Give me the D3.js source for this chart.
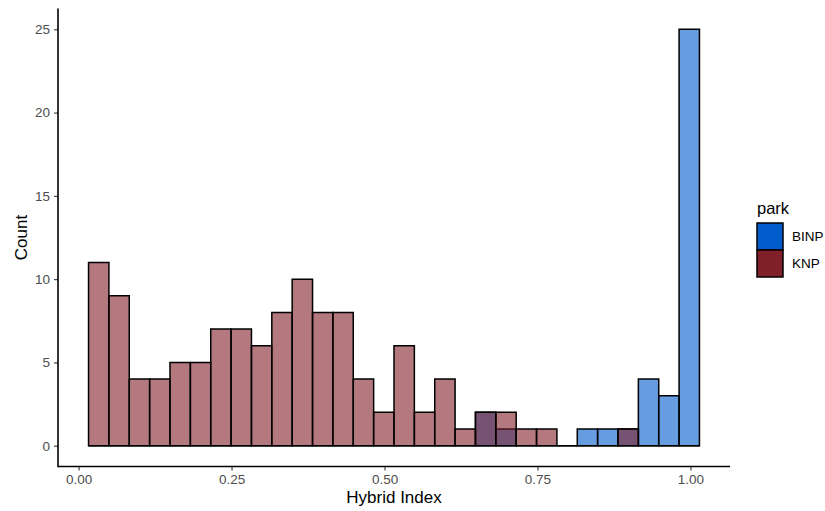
<!DOCTYPE html>
<html>
<head>
<meta charset="utf-8">
<script src="https://cdn.jsdelivr.net/npm/d3@7"></script>
<style>
  html, body { margin: 0; padding: 0; background: #fff; }
  svg { display: block; font-family: "Liberation Sans", Arial, Helvetica, sans-serif; }
</style>
</head>
<body>
<svg id="chart" width="825" height="511"></svg>
<script>
// Histogram of hybrid index by park (30 bins)
const binStart = 0.0163;
const binWidth = 0.03328;
const parks = ["BINP", "KNP"];
const binpCounts = [0,0,0,0,0,0,0,0,0,0,0,0,0,0,0,0,0,0,0,2,1,0,0,0,1,1,1,4,3,25];
const knpCounts  = [11,9,4,4,5,5,7,7,6,8,10,8,8,4,2,6,2,4,1,2,2,1,1,0,0,0,1,0,0,0];
const xTicks = [0, 0.25, 0.5, 0.75, 1.0];
const xTickLabels = ["0.00", "0.25", "0.50", "0.75", "1.00"];
const yTicks = [0, 5, 10, 15, 20, 25];
const parkColors = ["#005ccb", "#802029"];

const svg = d3.select("#chart");
const panel = { left: 58, right: 730, top: 8.5, bottom: 466.5 };

const nBins = binpCounts.length;
const dataMin = binStart, dataMax = binStart + nBins * binWidth;
const padX = (dataMax - dataMin) * 0.05;
const x = d3.scaleLinear().domain([dataMin - padX, dataMax + padX]).range([panel.left, panel.right]);
const yMax = d3.max([...binpCounts, ...knpCounts]);
const y = d3.scaleLinear().domain([-yMax * 0.05, yMax * 1.05]).range([panel.bottom, panel.top]);

const series = [
  { park: parks[0], counts: binpCounts, color: parkColors[0] },
  { park: parks[1], counts: knpCounts, color: parkColors[1] }
];

// bars, one layer per park (BINP first, KNP on top)
series.forEach(s => {
  svg.append("g")
    .selectAll("path")
    .data(s.counts.map((c, i) => ({ c, x0: binStart + i * binWidth, x1: binStart + (i + 1) * binWidth })))
    .join("path")
    .attr("d", d => {
      const xa = x(d.x0), xb = x(d.x1), y0 = y(0), y1 = y(d.c);
      return `M${xa},${y0}V${y1}H${xb}V${y0}Z`;
    })
    .attr("fill", s.color)
    .attr("fill-opacity", 0.6)
    .attr("stroke", "#000")
    .attr("stroke-width", 1.5)
    .attr("stroke-linejoin", "miter");
});

// axes
const xAxis = d3.axisBottom(x)
  .tickValues(xTicks)
  .tickFormat((d, i) => xTickLabels[i])
  .tickSize(4).tickPadding(4);
const gx = svg.append("g").attr("transform", `translate(0,${panel.bottom})`).call(xAxis);
gx.select(".domain").attr("stroke", "#000").attr("stroke-width", 1.6);
gx.selectAll(".tick line").attr("stroke", "#333").attr("stroke-width", 1.1);
gx.selectAll(".tick text").attr("fill", "#4d4d4d").attr("font-size", 13.5)
  .attr("font-family", "Liberation Sans, Arial, sans-serif");

const yAxis = d3.axisLeft(y).tickValues(yTicks).tickFormat(d3.format("d")).tickSize(4).tickPadding(4);
const gy = svg.append("g").attr("transform", `translate(${panel.left},0)`).call(yAxis);
gy.select(".domain").attr("stroke", "#000").attr("stroke-width", 1.6);
gy.selectAll(".tick line").attr("stroke", "#333").attr("stroke-width", 1.1);
gy.selectAll(".tick text").attr("fill", "#4d4d4d").attr("font-size", 13.5)
  .attr("font-family", "Liberation Sans, Arial, sans-serif");

// redraw domains as plain lines so they stop at the panel edges
gx.select(".domain").remove();
gy.select(".domain").remove();
svg.append("line").attr("x1", panel.left).attr("x2", panel.right)
  .attr("y1", panel.bottom).attr("y2", panel.bottom)
  .attr("stroke", "#000").attr("stroke-width", 1.6);
svg.append("line").attr("x1", panel.left).attr("x2", panel.left)
  .attr("y1", panel.top).attr("y2", panel.bottom + 0.8)
  .attr("stroke", "#000").attr("stroke-width", 1.6);

// axis titles
svg.append("text").attr("x", (panel.left + panel.right) / 2).attr("y", 503)
  .attr("text-anchor", "middle").attr("font-size", 17).attr("fill", "#000")
  .text("Hybrid Index");
svg.append("text").attr("transform", `translate(27,${(panel.top + panel.bottom) / 2}) rotate(-90)`)
  .attr("text-anchor", "middle").attr("font-size", 17).attr("fill", "#000")
  .text("Count");

// legend
const lg = svg.append("g").attr("transform", "translate(757,0)");
lg.append("text").attr("x", 0).attr("y", 214).attr("font-size", 16.5).attr("fill", "#000").text("park");
series.forEach((s, i) => {
  const top = 223 + i * 27;
  lg.append("rect").attr("x", 0).attr("y", top).attr("width", 26).attr("height", 27)
    .attr("fill", s.color).attr("stroke", "#000").attr("stroke-width", 1.5);
  lg.append("text").attr("x", 35).attr("y", top + 13.5).attr("dy", "0.36em")
    .attr("font-size", 13.5).attr("fill", "#000").text(s.park);
});
</script>
</body>
</html>
